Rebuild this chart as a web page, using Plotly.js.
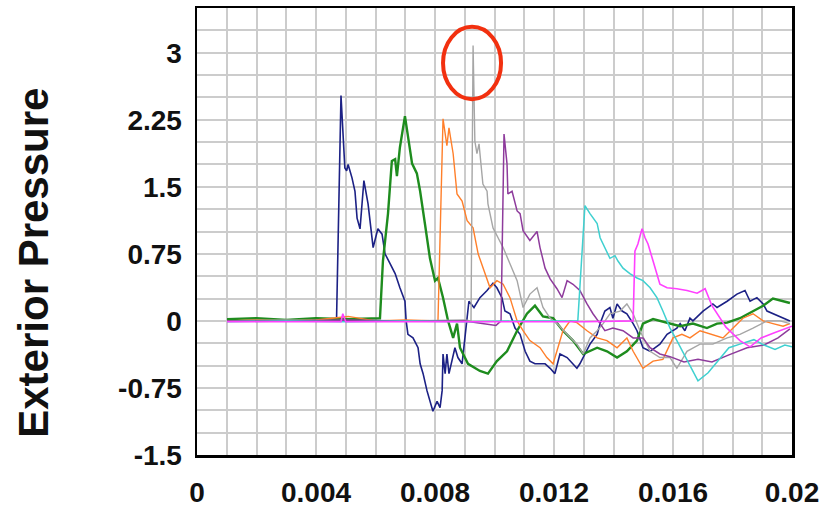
<!DOCTYPE html>
<html>
<head>
<meta charset="utf-8">
<script src="https://cdn.plot.ly/plotly-3.0.1.min.js"></script>
<style>html,body{margin:0;padding:0;background:#fff;}#chart{width:836px;height:507px;}</style>
</head>
<body>
<div id="chart"></div>
<script>
// ---- data (time in s, exterior pressure) ----
const navyX = [0.00101,0.0015,0.002,0.0025,0.003,0.0035,0.004,0.0045,0.00469,0.00484,0.00497,0.00503,0.00508,0.00521,0.00531,0.00538,0.00548,0.00561,0.00575,0.00582,0.00592,0.00598,0.00608,0.00622,0.00632,0.00649,0.00666,0.00682,0.00699,0.00703,0.00709,0.00726,0.00743,0.0075,0.0076,0.00773,0.00783,0.00793,0.00807,0.00817,0.00824,0.00827,0.00834,0.0084,0.00847,0.00861,0.00867,0.00877,0.00891,0.00914,0.00931,0.00951,0.00975,0.00995,0.01008,0.01025,0.01035,0.01052,0.01069,0.01086,0.01103,0.01119,0.01136,0.0117,0.01187,0.01203,0.0122,0.01244,0.01277,0.01287,0.01321,0.01345,0.01355,0.01371,0.01388,0.01398,0.01412,0.01429,0.01445,0.01466,0.01479,0.01499,0.01523,0.01556,0.0158,0.01613,0.01624,0.0164,0.01657,0.01667,0.01701,0.01734,0.01748,0.01782,0.01815,0.01842,0.01859,0.01882,0.01903,0.01916,0.01936,0.0197,0.01993];
const navyY = [0.01,0.0,0.01,0.0,0.01,0.0,0.01,0.0,0.01,2.52,1.71,1.68,1.75,1.60,1.45,1.15,1.03,1.57,1.31,1.09,0.82,0.90,1.03,0.97,0.75,0.64,0.53,0.37,0.22,0.0,-0.15,-0.19,-0.30,-0.48,-0.59,-0.78,-0.90,-1.01,-0.90,-0.97,-0.78,-0.37,-0.59,-0.37,-0.59,-0.37,-0.30,-0.41,-0.48,0.22,0.15,0.26,0.34,0.42,0.37,0.26,0.11,0.08,-0.08,-0.15,-0.34,-0.45,-0.48,-0.48,-0.53,-0.59,-0.37,-0.41,-0.53,-0.48,-0.26,-0.15,-0.03,0.11,0.15,0.03,0.19,0.11,0.08,-0.03,-0.11,-0.30,-0.34,-0.26,-0.15,-0.08,-0.03,-0.11,0.03,0.0,0.11,0.19,0.15,0.22,0.30,0.34,0.22,0.26,0.19,0.11,0.08,0.03,0.0];

const greenX = [0.00101,0.002,0.003,0.004,0.005,0.006,0.00615,0.00625,0.00642,0.00655,0.00666,0.00672,0.00682,0.00699,0.00709,0.00723,0.00739,0.0075,0.00766,0.00783,0.008,0.0081,0.00827,0.00844,0.00861,0.00874,0.00884,0.00911,0.00951,0.00978,0.01008,0.01042,0.01076,0.01109,0.01136,0.01163,0.01197,0.0123,0.01264,0.01298,0.01345,0.01378,0.01412,0.01445,0.01479,0.01499,0.01533,0.0158,0.01624,0.01667,0.01714,0.01748,0.01782,0.01825,0.01869,0.01903,0.01936,0.0197,0.01993];
const greenY = [0.02,0.03,0.01,0.03,0.02,0.03,0.03,0.67,1.20,1.79,1.81,1.62,1.94,2.29,2.05,1.76,1.65,1.45,1.09,0.70,0.45,0.48,0.26,0.0,-0.19,-0.03,-0.30,-0.48,-0.56,-0.59,-0.45,-0.34,-0.11,0.08,0.17,0.05,0.03,-0.11,-0.22,-0.37,-0.30,-0.34,-0.41,-0.34,-0.22,-0.03,0.02,-0.02,-0.06,-0.03,-0.08,-0.03,-0.02,0.03,0.11,0.17,0.25,0.22,0.20];

const orangeX = [0.00101,0.002,0.003,0.004,0.00508,0.006,0.007,0.0081,0.00827,0.0084,0.00847,0.00861,0.00874,0.00891,0.00908,0.00928,0.00945,0.00961,0.00985,0.01008,0.01029,0.01052,0.01076,0.01096,0.01119,0.01153,0.01176,0.01197,0.01213,0.0123,0.01254,0.01277,0.01311,0.01345,0.01378,0.01412,0.01445,0.01466,0.01499,0.01533,0.01566,0.016,0.0163,0.01657,0.01691,0.01734,0.01768,0.01802,0.01835,0.01869,0.01903,0.01936,0.0197,0.01993];
const orangeY = [0.0,0.01,0.0,0.01,0.05,0.0,0.01,0.0,2.26,1.96,2.16,1.87,1.42,1.34,1.12,1.04,0.75,0.59,0.37,0.45,0.41,0.26,0.0,-0.11,-0.22,-0.30,-0.41,-0.48,-0.30,-0.11,0.0,-0.02,-0.11,-0.19,-0.22,-0.30,-0.19,-0.34,-0.53,-0.45,-0.43,-0.19,-0.15,-0.19,-0.11,-0.15,-0.19,-0.08,0.03,0.08,0.0,-0.03,-0.06,-0.03];

const grayX = [0.00101,0.003,0.005,0.007,0.009,0.00921,0.00928,0.00934,0.00941,0.00948,0.00961,0.00975,0.00978,0.00995,0.01012,0.01029,0.01052,0.01076,0.01096,0.01119,0.01143,0.01163,0.01187,0.0121,0.01244,0.01277,0.01298,0.01321,0.01345,0.01365,0.01388,0.01422,0.01445,0.01466,0.01489,0.01523,0.01556,0.0159,0.01613,0.01647,0.01691,0.01734,0.01782,0.01825,0.01869,0.01916,0.0196,0.01993];
const grayY = [0.0,0.01,0.0,0.0,0.01,0.0,3.08,2.01,1.87,1.98,1.53,1.45,1.31,1.04,0.93,0.82,0.64,0.45,0.15,0.30,0.37,0.15,0.03,-0.03,-0.15,-0.26,-0.37,-0.19,-0.11,-0.03,0.08,0.11,0.19,0.08,-0.11,-0.34,-0.41,-0.41,-0.53,-0.34,-0.26,-0.26,-0.19,-0.15,-0.08,0.0,0.0,-0.03];

const purpleX = [0.00101,0.003,0.005,0.007,0.009,0.01005,0.01022,0.01032,0.01042,0.01045,0.01059,0.01076,0.01086,0.01096,0.01119,0.01143,0.01153,0.0117,0.01187,0.0121,0.01227,0.01244,0.01264,0.01287,0.01311,0.01331,0.01355,0.01371,0.01398,0.01432,0.01466,0.01499,0.01523,0.01556,0.0159,0.01637,0.01684,0.01731,0.01788,0.01849,0.01906,0.01953,0.01993];
const purpleY = [0.0,0.0,0.01,0.0,0.0,-0.05,0.0,2.09,1.76,1.42,1.45,1.23,1.20,1.01,0.90,1.00,0.82,0.59,0.47,0.36,0.26,0.45,0.41,0.34,0.19,0.08,-0.03,-0.11,-0.08,-0.11,-0.19,-0.19,-0.30,-0.37,-0.40,-0.46,-0.43,-0.46,-0.38,-0.30,-0.27,-0.19,-0.09];

const cyanX = [0.00101,0.003,0.005,0.007,0.009,0.011,0.0128,0.01304,0.01321,0.01345,0.01355,0.01378,0.01388,0.01405,0.01415,0.01432,0.01455,0.01479,0.01499,0.01523,0.01546,0.01566,0.0159,0.01613,0.01647,0.01684,0.01718,0.01755,0.01788,0.01825,0.01872,0.01906,0.01943,0.01976,0.02];
const cyanY = [-0.01,0.0,-0.01,0.0,-0.01,0.0,0.0,1.29,1.20,1.09,0.93,0.78,0.70,0.73,0.67,0.59,0.53,0.48,0.45,0.37,0.26,0.11,-0.08,-0.22,-0.44,-0.67,-0.58,-0.43,-0.30,-0.26,-0.21,-0.27,-0.32,-0.27,-0.29];

const magentaX = [0.00101,0.003,0.00484,0.0049,0.005,0.007,0.009,0.011,0.013,0.01466,0.01472,0.01482,0.01496,0.01506,0.01516,0.01533,0.01556,0.0158,0.01613,0.01647,0.01681,0.01708,0.01731,0.01778,0.01825,0.01859,0.01896,0.01943,0.01976,0.02];
const magentaY = [-0.01,-0.01,-0.01,0.08,-0.01,-0.01,-0.01,-0.01,-0.01,0.0,0.78,0.86,1.03,0.93,0.86,0.67,0.41,0.37,0.36,0.34,0.31,0.36,0.17,-0.07,-0.22,-0.29,-0.19,-0.13,-0.09,-0.06];

const seriesNames = ['Series 1','Series 2','Series 3','Series 4','Series 5','Series 6','Series 7'];
const seriesColors = ['#1c2185','#1e8c1e','#ff7f2a','#a6a6a6','#8e3b9c','#3fd0d0','#ff40ff'];
const seriesWidths = [1.6,2.4,1.4,1.4,1.5,1.5,1.6];

const xTickVals = [0,0.001,0.002,0.003,0.004,0.005,0.006,0.007,0.008,0.009,0.01,0.011,0.012,0.013,0.014,0.015,0.016,0.017,0.018,0.019,0.02];
const xTickText = ['0','','','','0.004','','','','0.008','','','','0.012','','','','0.016','','','','0.02'];
const yTickVals = [-1.5,-1.25,-1,-0.75,-0.5,-0.25,0,0.25,0.5,0.75,1,1.25,1.5,1.75,2,2.25,2.5,2.75,3,3.25,3.5];
const yTickText = ['-1.5','','','-0.75','','','0','','','0.75','','','1.5','','','2.25','','','3','',''];
const yTitle = 'Exterior Pressure';

// highlighted peak (ellipse bounds in data units)
const highlightX = [0.00827, 0.01022];
const highlightY = [2.48, 3.29];

const xs = [navyX, greenX, orangeX, grayX, purpleX, cyanX, magentaX];
const ys = [navyY, greenY, orangeY, grayY, purpleY, cyanY, magentaY];
const traces = xs.map((x, i) => ({
  x: x, y: ys[i], type: 'scatter', mode: 'lines', name: seriesNames[i],
  line: {color: seriesColors[i], width: seriesWidths[i]}
}));

const tickFont = {family: 'Liberation Sans, Arial, sans-serif', size: 28, color: '#111', weight: 'bold'};
const layout = {
  width: 836, height: 507,
  margin: {l: 197, r: 44, t: 8, b: 52},
  paper_bgcolor: '#fff', plot_bgcolor: '#fff',
  showlegend: false,
  xaxis: {
    range: [0, 0.02], tickmode: 'array', tickvals: xTickVals, ticktext: xTickText,
    showgrid: true, gridcolor: '#cccccc', gridwidth: 2,
    showline: true, linecolor: '#000', linewidth: 2.5, mirror: true,
    ticks: '', ticklabelstandoff: 11, tickfont: tickFont, zeroline: false
  },
  yaxis: {
    range: [-1.5, 3.5], tickmode: 'array', tickvals: yTickVals, ticktext: yTickText,
    showgrid: true, gridcolor: '#cccccc', gridwidth: 2,
    showline: true, linecolor: '#000', linewidth: 2.5, mirror: true,
    ticks: '', ticklabelstandoff: 7, tickfont: tickFont, zeroline: false
  },
  annotations: [{
    text: yTitle, textangle: -90, showarrow: false,
    xref: 'paper', yref: 'paper', x: -0.274, y: 0.43, xanchor: 'center', yanchor: 'middle',
    font: {family: 'Liberation Sans, Arial, sans-serif', size: 42, color: '#111', weight: 'bold'}
  }],
  shapes: [{
    type: 'circle', xref: 'x', yref: 'y',
    x0: highlightX[0], x1: highlightX[1], y0: highlightY[0], y1: highlightY[1],
    line: {color: '#f2300f', width: 4}
  }]
};
Plotly.newPlot('chart', traces, layout, {staticPlot: true, displayModeBar: false});
</script>
</body>
</html>
